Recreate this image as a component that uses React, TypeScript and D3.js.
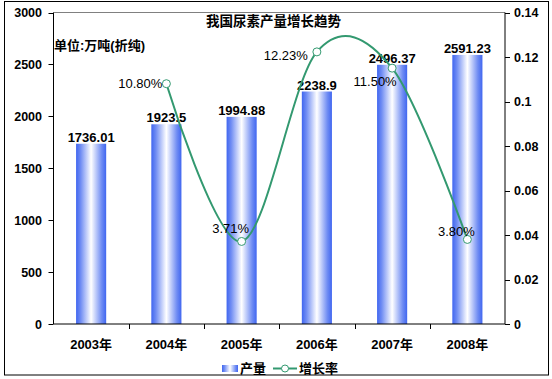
import React from "react";
import * as d3 from "d3";

const years = ["2003年", "2004年", "2005年", "2006年", "2007年", "2008年"];
const output = [1736.01, 1923.5, 1994.88, 2238.9, 2496.37, 2591.23];
const outputLabels = ["1736.01", "1923.5", "1994.88", "2238.9", "2496.37", "2591.23"];
const growthYears = ["2004年", "2005年", "2006年", "2007年", "2008年"];
const growth = [0.108, 0.0371, 0.1223, 0.115, 0.038];
const growthLabels = ["10.80%", "3.71%", "12.23%", "11.50%", "3.80%"];
const leftTicks = [0, 500, 1000, 1500, 2000, 2500, 3000];
const rightTicks = [0, 0.02, 0.04, 0.06, 0.08, 0.1, 0.12, 0.14];
const title = "我国尿素产量增长趋势";
const unitText = "单位:万吨(折纯)";
const legendNames = ["产量", "增长率"];

// label placement (style, not data): [dx, dy, anchor]
const growthLabelPos: [number, number, string][] = [
  [-4, 0, "end"],
  [-11, -13, "middle"],
  [-9, 3, "end"],
  [-17, 13, "middle"],
  [-11, -8, "middle"],
];

const W = 552, H = 379;
const L = 53.5, R = 505, T = 12.5, B = 324;
const FONT = "'Liberation Sans', Arial, 'Noto Sans CJK SC', sans-serif";
const BLUE = "#4066f0";
const GREEN = "#339970";

export default function App() {
  const x = d3.scaleBand<string>().domain(years).range([L, R]).padding(0);
  const yL = d3.scaleLinear().domain([0, 3000]).range([B, T]);
  const yR = d3.scaleLinear().domain([0, 0.14]).range([B, T]);
  const bw = x.bandwidth() * 0.4;
  const cx = (c: string) => (x(c) as number) + x.bandwidth() / 2;

  const linePts: [number, number][] = growthYears.map((c, i) => [cx(c), yR(growth[i])]);
  const line = d3.line().curve(d3.curveCardinal.tension(0))(linePts) || "";

  return (
    <svg width={W} height={H} style={{ position: "absolute", left: 0, top: 0, background: "#fff" }} fontFamily={FONT}>
      <defs>
        <linearGradient id="barGrad" x1="0" x2="1" y1="0" y2="0">
          <stop offset="0" stopColor={BLUE} />
          <stop offset="0.15" stopColor="#6f8cf3" />
          <stop offset="0.5" stopColor="#ffffff" />
          <stop offset="0.85" stopColor="#6f8cf3" />
          <stop offset="1" stopColor={BLUE} />
        </linearGradient>
      </defs>
      <rect x={0} y={0} width={W} height={H} fill="#fff" />
      <rect x={4.5} y={1.5} width={544} height={373.5} fill="none" stroke="#000" strokeWidth={1} />

      {/* bars */}
      {years.map((c, i) => (
        <rect key={c} x={cx(c) - bw / 2} y={yL(output[i])} width={bw} height={B - yL(output[i])} fill="url(#barGrad)" />
      ))}

      {/* plot frame */}
      <line x1={L} x2={R} y1={T} y2={T} stroke="#808080" />
      <line x1={L} x2={L} y1={T} y2={B} stroke="#000" />
      <line x1={R} x2={R} y1={T} y2={B} stroke="#000" />
      <line x1={L} x2={R} y1={B} y2={B} stroke="#000" />

      {/* left axis */}
      {leftTicks.map((t) => (
        <g key={"l" + t}>
          <line x1={L - 5} x2={L} y1={Math.round(yL(t)) + 0.5} y2={Math.round(yL(t)) + 0.5} stroke="#000" />
          <text x={42} y={yL(t)} dy="0.36em" textAnchor="end" fontSize={12.5} fontWeight="bold">{t}</text>
        </g>
      ))}
      {/* right axis */}
      {rightTicks.map((t) => (
        <g key={"r" + t}>
          <line x1={R} x2={R + 5} y1={Math.round(yR(t)) + 0.5} y2={Math.round(yR(t)) + 0.5} stroke="#000" />
          <text x={514} y={yR(t)} dy="0.36em" textAnchor="start" fontSize={12.5} fontWeight="bold">{String(+t.toFixed(2))}</text>
        </g>
      ))}
      {/* category axis */}
      {years.slice(1).map((c) => (
        <line key={"t" + c} x1={Math.round(x(c) as number) + 0.5} x2={Math.round(x(c) as number) + 0.5} y1={B} y2={B + 5} stroke="#000" />
      ))}
      {years.map((c) => (
        <text key={"x" + c} x={cx(c)} y={344} dy="0.36em" textAnchor="middle" fontSize={13} fontWeight="bold">{c}</text>
      ))}

      {/* bar labels */}
      {years.map((c, i) => (
        <text key={"bl" + c} x={cx(c)} y={yL(output[i]) - 2} textAnchor="middle" fontSize={13} fontWeight="bold">{outputLabels[i]}</text>
      ))}

      {/* growth line */}
      <path d={line} fill="none" stroke={GREEN} strokeWidth={2} />
      {linePts.map((p, i) => (
        <circle key={"m" + i} cx={p[0]} cy={p[1]} r={4} fill="#fff" stroke={GREEN} strokeWidth={1} />
      ))}
      {linePts.map((p, i) => (
        <text key={"gl" + i} x={p[0] + growthLabelPos[i][0]} y={p[1] + growthLabelPos[i][1]} dy="0.36em"
          textAnchor={growthLabelPos[i][2] as any} fontSize={13}>{growthLabels[i]}</text>
      ))}

      {/* titles */}
      <text x={273.5} y={21} dy="0.36em" textAnchor="middle" fontSize={13.5} fontWeight="bold">{title}</text>
      <text x={54} y={45} dy="0.36em" textAnchor="start" fontSize={13} fontWeight="bold">{unitText}</text>

      {/* legend */}
      <rect x={222} y={365} width={16} height={7} fill="url(#barGrad)" />
      <text x={240} y={368.5} dy="0.36em" fontSize={13} fontWeight="bold">{legendNames[0]}</text>
      <line x1={273} x2={297} y1={368.5} y2={368.5} stroke={GREEN} strokeWidth={2} />
      <circle cx={285} cy={368.5} r={3.5} fill="#fff" stroke={GREEN} strokeWidth={1} />
      <text x={299} y={368.5} dy="0.36em" fontSize={13} fontWeight="bold">{legendNames[1]}</text>
    </svg>
  );
}
